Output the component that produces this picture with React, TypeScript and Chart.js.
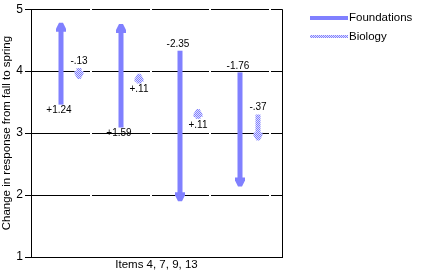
import React, { useEffect, useRef } from "react";
import { Chart, registerables } from "chart.js";

Chart.register(...registerables);

// ---- data ----
const groups = ["Item 4", "Item 7", "Item 9", "Item 13"];
const groupCenters = [0.5, 1.5, 2.5, 3.5];
const biologyOffset = 0.3;
const foundationsStart = [3.46, 3.09, 4.33, 3.98];
const foundationsChange = [1.24, 1.59, -2.35, -1.76];
const biologyStart = [4.05, 3.8, 3.23, 3.3];
const biologyChange = [-0.13, 0.11, 0.11, -0.37];
const yTicks = [1, 2, 3, 4, 5];
const separators = [1, 2, 3, 4];
const seriesNames = ["Foundations", "Biology"];
const yTitle = "Change in response from fall to spring";
const xTitle = "Items 4, 7, 9, 13";

const FONT = "'Liberation Sans', Arial, sans-serif";
const BLUE = "#8080ff";

function fmt(v: number): string {
  const s = Math.abs(v).toFixed(2).replace(/^0/, "");
  return (v >= 0 ? "+" : "-") + s;
}

function makePattern(ctx: CanvasRenderingContext2D) {
  const c = document.createElement("canvas");
  c.width = 2;
  c.height = 2;
  const p = c.getContext("2d")!;
  p.fillStyle = "#e0e0ff";
  p.fillRect(0, 0, 2, 2);
  p.fillStyle = BLUE;
  p.fillRect(0, 0, 1, 1);
  p.fillRect(1, 1, 1, 1);
  return ctx.createPattern(c, "repeat")!;
}

function drawArrow(
  ctx: CanvasRenderingContext2D,
  x: number,
  y0: number,
  y1: number,
  fill: any,
  shaftW: number,
  headW: number,
  back: number,
  fwd: number,
  tipW: number
) {
  const d = y1 >= y0 ? 1 : -1;
  ctx.fillStyle = fill;
  const top = Math.min(y0, y1);
  ctx.fillRect(x - shaftW / 2, top, shaftW, Math.abs(y1 - y0));
  const base = y1 - d * back;
  const tip = y1 + d * fwd;
  const mid = base + d * 3;
  const hw = headW / 2;
  const tw = tipW / 2;
  ctx.beginPath();
  ctx.moveTo(x - hw, base);
  ctx.lineTo(x + hw, base);
  ctx.lineTo(x + hw, mid);
  ctx.lineTo(x + tw, tip);
  ctx.lineTo(x - tw, tip);
  ctx.lineTo(x - hw, mid);
  ctx.closePath();
  ctx.fill();
}

const arrowPlugin = {
  id: "arrows",
  beforeDatasetsDraw(chart: any) {
    const { ctx, chartArea, scales } = chart;
    const xs = scales.x;
    const ys = scales.y;
    ctx.save();
    // gaps in gridlines
    ctx.fillStyle = "#ffffff";
    for (const t of yTicks) {
      if (t === yTicks[0]) continue;
      const py = Math.round(ys.getPixelForValue(t));
      for (const s of separators) {
        const px = Math.round(xs.getPixelForValue(s));
        ctx.fillRect(px - 1, py - 1, 2, 3);
      }
    }
    // right border
    ctx.strokeStyle = "#000";
    ctx.lineWidth = 1;
    ctx.beginPath();
    ctx.moveTo(Math.round(chartArea.right) + 0.5, chartArea.top);
    ctx.lineTo(Math.round(chartArea.right) + 0.5, chartArea.bottom);
    ctx.stroke();
    ctx.restore();
  },
  afterDatasetsDraw(chart: any) {
    const { ctx, scales } = chart;
    const xs = scales.x;
    const ys = scales.y;
    const pat = makePattern(ctx);
    ctx.save();
    ctx.font = `10px ${FONT}`;
    ctx.textAlign = "center";
    groups.forEach((_, i) => {
      // Foundations
      const fx = Math.round(xs.getPixelForValue(groupCenters[i]));
      const fs = foundationsStart[i];
      const fc = foundationsChange[i];
      const fy0 = ys.getPixelForValue(fs);
      const fy1 = ys.getPixelForValue(fs + fc);
      drawArrow(ctx, fx, fy0, fy1, BLUE, 5, 10, 4, 5, 4);
      ctx.fillStyle = "#000";
      if (fc >= 0) {
        ctx.textBaseline = "top";
        ctx.fillText(fmt(fc), fx - 2, fy0 + 1);
      } else {
        ctx.textBaseline = "bottom";
        ctx.fillText(fmt(fc), fx - 2, fy0 - 1);
      }
      // Biology
      const bx = Math.round(xs.getPixelForValue(groupCenters[i] + biologyOffset));
      const bs = biologyStart[i];
      const bc = biologyChange[i];
      const by0 = ys.getPixelForValue(bs);
      const by1 = ys.getPixelForValue(bs + bc);
      drawArrow(ctx, bx, by0, by1, pat, 5, 9, 5, 3, 3);
      ctx.fillStyle = "#000";
      if (bc >= 0) {
        ctx.textBaseline = "top";
        ctx.fillText(fmt(bc), bx, by0 + 1);
      } else {
        ctx.textBaseline = "bottom";
        ctx.fillText(fmt(bc), bx, by0 - 2);
      }
    });
    // legend
    const lx0 = 310;
    const lx1 = 348;
    ctx.fillStyle = BLUE;
    ctx.fillRect(lx0, 16, lx1 - lx0, 4);
    ctx.fillStyle = pat;
    ctx.fillRect(lx0, 35, lx1 - lx0, 3);
    ctx.fillStyle = "#000";
    ctx.font = `11.5px ${FONT}`;
    ctx.textAlign = "left";
    ctx.textBaseline = "middle";
    ctx.fillText(seriesNames[0], lx1 + 1, 18);
    ctx.fillText(seriesNames[1], lx1 + 1, 37);
    ctx.restore();
  },
};

export default function App() {
  const ref = useRef<HTMLCanvasElement>(null);
  useEffect(() => {
    const chart = new Chart(ref.current!, {
      type: "scatter",
      data: {
        datasets: [
          { label: seriesNames[0], data: [], showLine: false },
          { label: seriesNames[1], data: [], showLine: false },
        ],
      },
      options: {
        animation: false,
        responsive: true,
        maintainAspectRatio: false,
        layout: { padding: { left: 0, top: 7, right: 150, bottom: 0 } },
        plugins: { legend: { display: false }, tooltip: { enabled: false } },
        scales: {
          x: {
            type: "linear",
            min: 0,
            max: 4.2,
            ticks: { display: false },
            grid: { display: false, drawTicks: false },
            border: { display: true, color: "#000", width: 1 },
            title: {
              display: true,
              text: xTitle,
              color: "#000",
              font: { family: FONT, size: 11.5 },
              padding: { top: 0, bottom: 3 },
            },
            afterFit: (s: any) => {
              s.height = 18;
            },
          },
          y: {
            type: "linear",
            min: 1,
            max: 5,
            ticks: {
              stepSize: 1,
              color: "#000",
              font: { family: FONT, size: 12 },
              padding: 2,
            },
            grid: { color: "#000", lineWidth: 1, drawTicks: true, tickLength: 6 },
            border: { display: true, color: "#000", width: 1 },
            title: {
              display: true,
              text: yTitle,
              color: "#000",
              font: { family: FONT, size: 11.5 },
              padding: { top: 0, bottom: 0 },
            },
            afterFit: (s: any) => {
              s.width = 31;
            },
          },
        },
      },
      plugins: [arrowPlugin],
    });
    return () => chart.destroy();
  }, []);
  return (
    <div style={{ position: "absolute", left: 0, top: 0, width: 432, height: 275, background: "#fff" }}>
      <canvas ref={ref} />
    </div>
  );
}
